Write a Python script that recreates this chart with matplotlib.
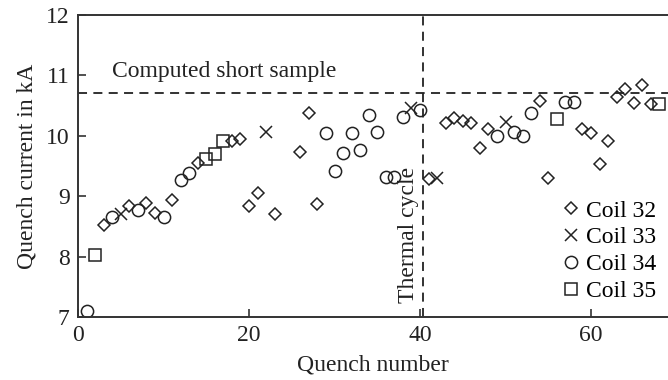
import matplotlib
matplotlib.use("Agg")
import matplotlib.pyplot as plt

plt.rcParams['font.family'] = ['Liberation Serif', 'DejaVu Serif']
plt.rcParams['font.size'] = 17

# Coil 32 (diamonds)
c32_x = [3, 6, 8, 9, 11, 14, 18, 19, 20, 21, 23, 26, 27, 28,
         41, 43, 44, 45, 46, 47, 48, 54, 55, 59, 60, 61, 62, 63, 64, 65, 66, 67]
c32_y = [8.53, 8.83, 8.89, 8.73, 8.94, 9.55, 9.92, 9.95, 8.83, 9.06, 8.70, 9.73, 10.37, 8.87,
         9.28, 10.22, 10.29, 10.25, 10.21, 9.80, 10.12, 10.58, 9.30, 10.12, 10.05, 9.54, 9.91,
         10.65, 10.77, 10.54, 10.84, 10.53]
# Coil 33 (crosses)
c33_x = [5, 22, 39, 42, 50]
c33_y = [8.71, 10.07, 10.46, 9.30, 10.23]
# Coil 34 (circles)
c34_x = [1, 4, 7, 10, 12, 13, 29, 30, 31, 32, 33, 34, 35, 36, 37, 38, 40,
         49, 51, 52, 53, 57, 58]
c34_y = [7.10, 8.66, 8.77, 8.66, 9.27, 9.38, 10.05, 9.41, 9.72, 10.04, 9.76, 10.34, 10.07,
         9.31, 9.31, 10.31, 10.43, 10.00, 10.07, 9.99, 10.38, 10.56, 10.56]
# Coil 35 (squares)
c35_x = [2, 15, 16, 17, 56, 68]
c35_y = [8.02, 9.62, 9.70, 9.92, 10.27, 10.53]

short_sample = 10.71
thermal_cycle = 40.4

ink = '#222222'

fig = plt.figure(figsize=(6.68, 3.80), dpi=100)
ax = fig.add_axes([0.1168, 0.1658, 0.8832, 0.7947])

ax.axhline(short_sample, color=ink, lw=1.3, ls=(0, (5, 3.5)), zorder=1)
ax.axvline(thermal_cycle, color=ink, lw=1.3, ls=(0, (5, 3.5)), zorder=1)

common = dict(ls='none', mfc='none', mec=ink, mew=1.1)
ax.plot(c32_x, c32_y, marker='D', ms=6.6, label='Coil 32', **common)
ax.plot(c33_x, c33_y, marker='x', ms=8.6, label='Coil 33', **common)
ax.plot(c34_x, c34_y, marker='o', ms=8.8, label='Coil 34', **common)
ax.plot(c35_x, c35_y, marker='s', ms=8.6, label='Coil 35', **common)

ax.text(4.0, 10.97, 'Computed short sample', ha='left', va='baseline', color=ink)
ax.text(38.6, 8.36, 'Thermal cycle', rotation=90, ha='center', va='center', color=ink)

ax.set_xlim(0, 69)
ax.set_ylim(7, 12)
ax.set_xticks([0, 20, 40, 60])
ax.set_yticks([7, 8, 9, 10, 11, 12])
ax.tick_params(direction='in', length=6, width=1.1, color=ink, labelcolor=ink, pad=6)
for s in ax.spines.values():
    s.set_linewidth(1.4)
    s.set_color('#333333')
ax.spines['right'].set_visible(False)

ax.set_xlabel('Quench number', color=ink, labelpad=6)
ax.set_ylabel('Quench current in kA', color=ink, labelpad=6)

ax.legend(loc='lower right', bbox_to_anchor=(0.98, 0.05), frameon=False,
          handlelength=0.6, handletextpad=0.35, labelspacing=0.22, borderpad=0,
          borderaxespad=0)

fig.savefig('out.png', dpi=100)
